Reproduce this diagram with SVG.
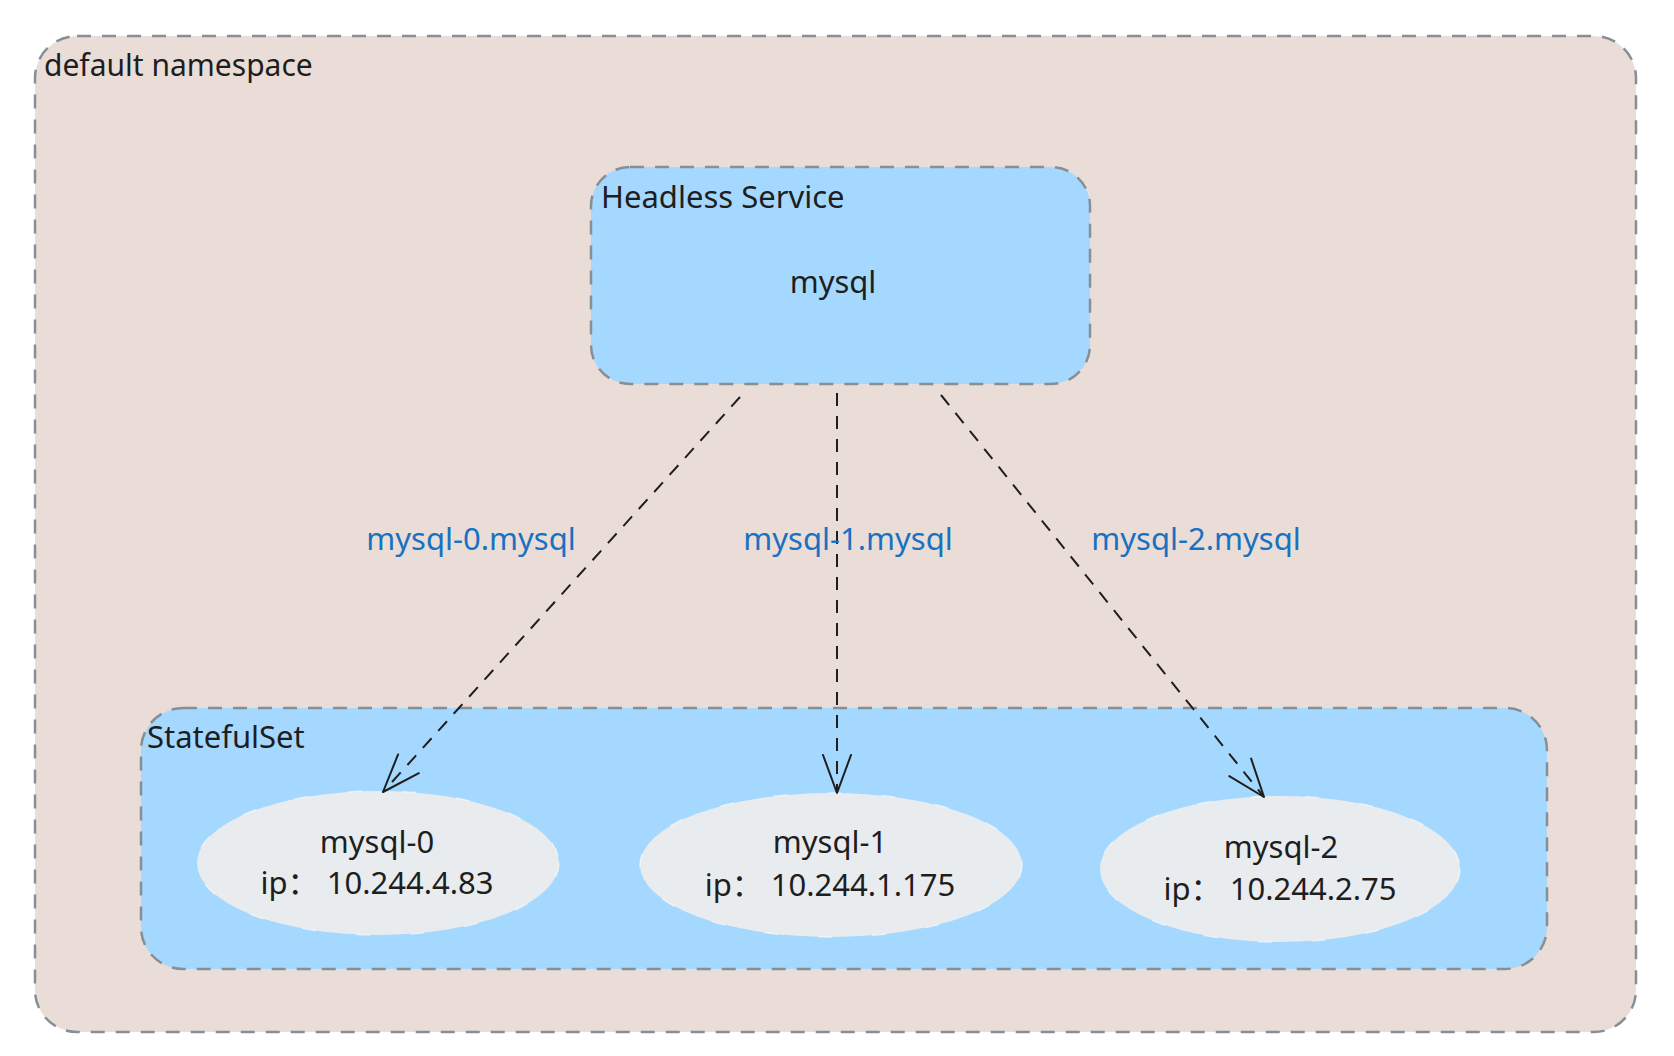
<svg xmlns="http://www.w3.org/2000/svg" width="1674" height="1056" viewBox="0 0 1674 1056">
  <style>
    .box { stroke: #868e96; stroke-width: 2.5; stroke-dasharray: 14 11; }
    .ns { fill: #eaddd7; }
    .blue { fill: #a5d8ff; }
    .pod { fill: #e9ecef; stroke: #f8f9fa; stroke-opacity: 0.7; stroke-width: 1.5; stroke-dasharray: 14 40; }
    .t { font-family: "Noto Sans", "Noto Sans CJK SC", sans-serif; font-size: 31px; fill: #1e1e1e; }
    .c { text-anchor: middle; }
    .lbl { font-family: "Noto Sans", "Noto Sans CJK SC", sans-serif; font-size: 31px; fill: #1971c2; text-anchor: middle; }
    .edge { fill: none; stroke: #1e1e1e; stroke-width: 2; stroke-dasharray: 13 10; marker-end: url(#arrow); }
  </style>
  <defs>
    <marker id="arrow" markerUnits="userSpaceOnUse" viewBox="-45 -25 50 50" markerWidth="50" markerHeight="50" refX="0" refY="0" orient="auto" overflow="visible">
      <path d="M -38 -14 L 0 0 L -38 14" fill="none" stroke="#1e1e1e" stroke-width="2" stroke-dasharray="none" stroke-linecap="round" stroke-linejoin="round"/>
    </marker>
  </defs>
  <rect width="1674" height="1056" fill="#ffffff"/>

  <g id="default-namespace">
    <rect class="box ns" x="35" y="36" width="1601" height="996" rx="42" ry="42"/>
    <text class="t" x="44" y="76" style="font-size:30px">default namespace</text>
  </g>

  <g id="headless-service">
    <rect class="box blue" x="591" y="167" width="499" height="217" rx="39" ry="39"/>
    <text class="t" x="601" y="208">Headless Service</text>
    <text class="t c" x="833" y="293">mysql</text>
  </g>

  <g id="statefulset">
    <rect class="box blue" x="141" y="708" width="1406" height="261" rx="42" ry="42"/>
    <text class="t" x="147" y="748">StatefulSet</text>
  </g>

  <g id="mysql-0">
    <ellipse class="pod" cx="378" cy="863" rx="181" ry="72"/>
    <text class="t c" x="377" y="853">mysql-0</text>
    <text class="t c" x="377" y="894">ip： 10.244.4.83</text>
  </g>

  <g id="mysql-1">
    <ellipse class="pod" cx="831" cy="865" rx="191" ry="72"/>
    <text class="t c" x="830" y="853">mysql-1</text>
    <text class="t c" x="830" y="896">ip： 10.244.1.175</text>
  </g>

  <g id="mysql-2">
    <ellipse class="pod" cx="1280" cy="869" rx="180" ry="73"/>
    <text class="t c" x="1281" y="858">mysql-2</text>
    <text class="t c" x="1280" y="900">ip： 10.244.2.75</text>
  </g>

  <g id="connectors">
    <path class="edge" d="M 740 397 L 383 792"/>
    <path class="edge" d="M 837 393 L 837 793"/>
    <path class="edge" d="M 941 395 L 1264 797"/>
    <text class="lbl" x="471" y="550">mysql-0.mysql</text>
    <text class="lbl" x="848" y="550">mysql-1.mysql</text>
    <text class="lbl" x="1196" y="550">mysql-2.mysql</text>
  </g>
</svg>
